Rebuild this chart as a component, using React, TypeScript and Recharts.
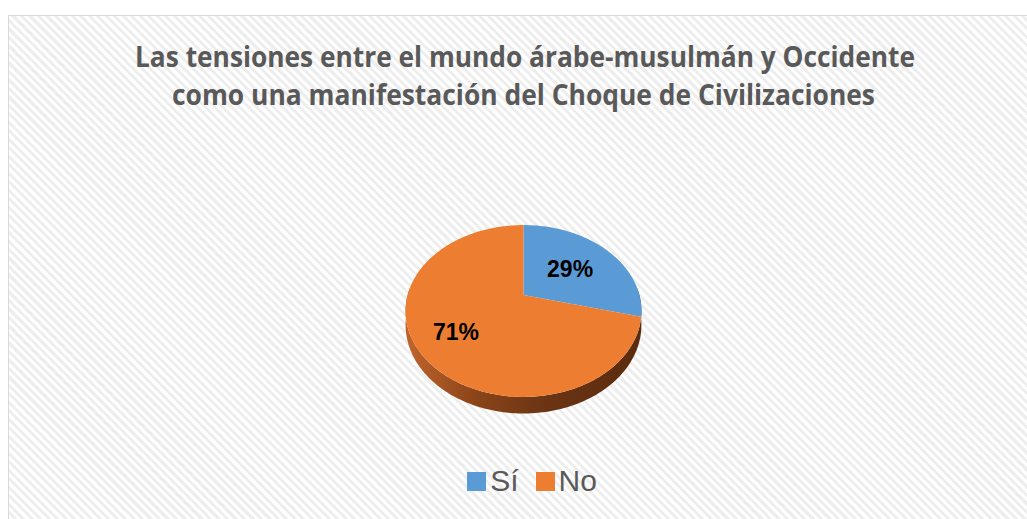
import React from "react"
import { Cell, Legend, Pie, PieChart } from "recharts"

const categories = ["Sí", "No"]
const values = [29, 71]
const colors = ["#5B9BD5", "#ED7D31"]
const titleLines = [
  "Las tensiones entre el mundo árabe-musulmán y Occidente",
  "como una manifestación del Choque de Civilizaciones",
]

const data = categories.map((name, i) => ({ name, value: values[i] }))

// fake 3d: project the pie disc with a little perspective, far side up
const SX = 0.982
const SY = 0.703
const PERSP = 0.186
const DEPTH = 13.5
const LABEL_K = [0.54, 0.68]
const sideFill = ["url(#sideBlue)", "url(#sideOrange)"]

const RAD = Math.PI / 180

// phi: degrees clockwise from the far point of the disc, r: 0..1
function proj(cx: number, cy: number, R: number, phi: number, r = 1, drop = 0) {
  const u = r * Math.sin(phi * RAD)
  const v = -r * Math.cos(phi * RAD)
  const d = 1 - PERSP * v
  return [cx + (R * SX * u) / d, cy + (R * SY * v) / d + drop / d]
}

function arc(cx: number, cy: number, R: number, p0: number, p1: number, drop = 0) {
  const pts: string[] = []
  const n = Math.max(2, Math.ceil(Math.abs(p1 - p0)))
  for (let i = 0; i <= n; i++) {
    const p = p0 + ((p1 - p0) * i) / n
    const [x, y] = proj(cx, cy, R, p, 1, drop)
    pts.push(`${x.toFixed(2)},${y.toFixed(2)}`)
  }
  return pts
}

function Slice3D(props: any) {
  const { cx, cy, outerRadius, startAngle, endAngle, fill, index } = props
  const p0 = 90 - Math.max(startAngle, endAngle)
  const p1 = 90 - Math.min(startAngle, endAngle)
  const top = `M${cx},${cy} L${arc(cx, cy, outerRadius, p0, p1).join(" L")} Z`

  // wall only on the near half of the rim
  const w0 = Math.max(p0, 85)
  const w1 = Math.min(p1, 275)
  let wall = null
  if (w1 > w0) {
    const upper = arc(cx, cy, outerRadius, w0, w1)
    const lower = arc(cx, cy, outerRadius, w1, w0, DEPTH)
    wall = <path d={`M${upper.join(" L")} L${lower.join(" L")} Z`} fill={sideFill[index] || fill} stroke="none" />
  }
  return (
    <g>
      {wall}
      <path d={top} fill={fill} stroke="none" />
    </g>
  )
}

function renderLabel(props: any) {
  const { cx, cy, midAngle, outerRadius, index, value } = props
  const [x, y] = proj(cx, cy, outerRadius, 90 - midAngle, LABEL_K[index])
  return (
    <text
      x={x}
      y={y}
      textAnchor="middle"
      dominantBaseline="central"
      fill="#000"
      fontFamily="Liberation Sans, Arial, sans-serif"
      fontWeight="bold"
      fontSize={23}
    >
      {value}%
    </text>
  )
}

function LegendContent() {
  return (
    <div
      style={{
        display: "flex",
        justifyContent: "center",
        alignItems: "center",
        marginLeft: 9,
        fontFamily: "Liberation Sans, Arial, sans-serif",
        fontSize: 30,
        lineHeight: "34px",
        color: "#595959",
      }}
    >
      {categories.map((c, i) => (
        <div key={c} style={{ display: "flex", alignItems: "center", marginRight: i === 0 ? 17 : 0 }}>
          <span style={{ width: 19, height: 19, background: colors[i], marginRight: 4, display: "inline-block" }} />
          <span>{c}</span>
        </div>
      ))}
    </div>
  )
}

export default function App() {
  return (
    <div
      style={{
        position: "fixed",
        left: 8,
        top: 15,
        width: 1037,
        height: 520,
        border: "1px solid #d9d9d9",
        background: "repeating-linear-gradient(45deg, #ffffff 0px, #ffffff 3px, #eeeeee 3px, #eeeeee 6px)",
      }}
    >
      <PieChart width={1037} height={520} margin={{ top: 0, right: 0, bottom: 0, left: 0 }}>
        <defs>
          <linearGradient id="sideOrange" gradientUnits="userSpaceOnUse" x1={397} y1={0} x2={633} y2={0}>
            <stop offset="0%" stopColor="#c0642c" />
            <stop offset="30%" stopColor="#8a4419" />
            <stop offset="60%" stopColor="#6a3414" />
            <stop offset="100%" stopColor="#5a2b0e" />
          </linearGradient>
          <linearGradient id="sideBlue" gradientUnits="userSpaceOnUse" x1={397} y1={0} x2={633} y2={0}>
            <stop offset="0%" stopColor="#3a6f9f" />
            <stop offset="100%" stopColor="#24496b" />
          </linearGradient>
        </defs>
        {titleLines.map((t, i) => (
          <text
            key={t}
            x={i === 0 ? 126 : 163}
            y={i === 0 ? 51 : 89}
            textLength={i === 0 ? 780 : 703}
            lengthAdjust="spacingAndGlyphs"
            fill="#595959"
            fontFamily="Open Sans, sans-serif"
            fontWeight="bold"
            fontSize={28}
          >
            {t}
          </text>
        ))}
        <Pie
          data={data}
          dataKey="value"
          nameKey="name"
          cx={514.5}
          cy={279}
          outerRadius={118}
          startAngle={90}
          endAngle={-270}
          stroke="none"
          label={renderLabel}
          labelLine={false}
          shape={Slice3D}
          inactiveShape={Slice3D}
          activeShape={Slice3D}
          isAnimationActive={false}
        >
          {data.map((d, i) => (
            <Cell key={d.name} fill={colors[i]} />
          ))}
        </Pie>
        <Legend content={LegendContent} wrapperStyle={{ left: 0, top: 448, width: 1037 }} />
      </PieChart>
    </div>
  )
}
